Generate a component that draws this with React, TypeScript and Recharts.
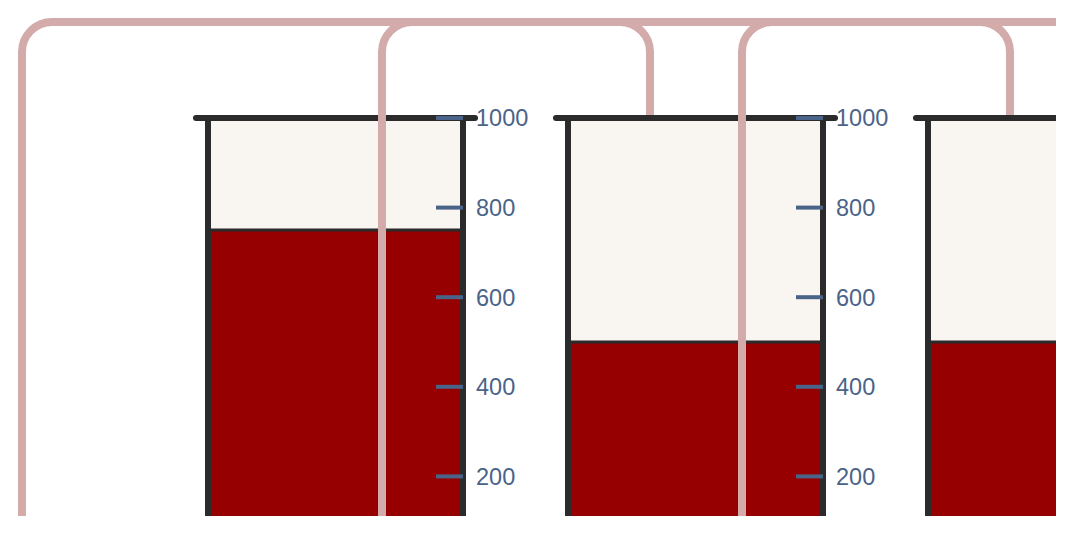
import { BarChart, Bar, XAxis, YAxis } from 'recharts';

const TANKS = ['Tank 1', 'Tank 2', 'Tank 3'];
const LEVELS = [750, 500, 500];
const CAPACITY = 1000;
const TICKS = [200, 400, 600, 800, 1000];

const WALL = '#2b2b2b';
const LIQUID = '#960000';
const EMPTY = '#f9f5f0';
const SCALE = '#4a6388';
const PIPE = '#d3abab';

const VIEW_W = 1048;
const VIEW_H = 508;
const CHART_W = 360;
const CHART_H = 600;
const FIRST_LEFT = 160;
const MARGIN = { top: 110, right: 0, bottom: 42, left: 40 };
const AXIS_W = 65;

// pipe layout, measured from each tank's left wall
const PIPE_Y = 14;
const PIPE_R = 30;
const OUTLET = 174;
const INLET = 82;
const FEED = -186;

function TankShape(props: any) {
    const { x, y, width, height, background } = props;
    const top = background ? background.y : MARGIN.top;
    const bottom = background ? background.y + background.height : y + height;
    return (
        <g>
            <rect x={x} y={top} width={width} height={bottom - top} fill={EMPTY} />
            <rect x={x} y={y} width={width} height={bottom - y} fill={LIQUID} />
            <line x1={x} x2={x + width} y1={y} y2={y} stroke={WALL} strokeWidth={3} />
            <line x1={x} x2={x} y1={top} y2={bottom + 40} stroke={WALL} strokeWidth={6} />
            <line x1={x + width} x2={x + width} y1={top} y2={bottom + 40} stroke={WALL} strokeWidth={6} />
            <line
                x1={x - 12}
                x2={x + width + 12}
                y1={top}
                y2={top}
                stroke={WALL}
                strokeWidth={6}
                strokeLinecap="round"
            />
        </g>
    );
}

function ScaleTick(props: any) {
    const { x, y, payload } = props;
    return (
        <g>
            <line x1={x - 40} x2={x - 13} y1={y} y2={y} stroke={SCALE} strokeWidth={4} />
            <text
                x={x}
                y={y}
                dy="0.36em"
                textAnchor="start"
                fill={SCALE}
                fontSize={23.5}
                fontFamily="'Liberation Sans', Arial, sans-serif"
            >
                {payload.value}
            </text>
        </g>
    );
}

function tankLeft(i: number) {
    return FIRST_LEFT + MARGIN.left + i * CHART_W;
}

function pipePaths() {
    const r = PIPE_R;
    const paths: string[] = [];
    const fx = tankLeft(0) + FEED;
    paths.push(`M${fx},${VIEW_H + 10} V${PIPE_Y + r} A${r},${r} 0 0 1 ${fx + r},${PIPE_Y} H${VIEW_W + 10}`);
    for (let i = 1; i < TANKS.length; i++) {
        const from = tankLeft(i - 1) + OUTLET;
        const to = tankLeft(i) + INLET;
        paths.push(
            `M${from},${VIEW_H + 10} V${PIPE_Y + r} A${r},${r} 0 0 1 ${from + r},${PIPE_Y} ` +
            `H${to - r} A${r},${r} 0 0 1 ${to},${PIPE_Y + r} V${MARGIN.top - 3}`
        );
    }
    return paths;
}

export default function App() {
    return (
        <div style={{ position: 'relative', width: VIEW_W, height: VIEW_H, overflow: 'hidden' }}>
            {TANKS.map((name, i) => (
                <div
                    key={name}
                    style={{ position: 'absolute', left: FIRST_LEFT + i * CHART_W, top: 0 }}
                >
                    <BarChart
                        width={CHART_W}
                        height={CHART_H}
                        data={[{ name, level: LEVELS[i] }]}
                        margin={MARGIN}
                        barCategoryGap={0}
                    >
                        <XAxis dataKey="name" hide />
                        <Bar dataKey="level" shape={<TankShape />} isAnimationActive={false} />
                        <YAxis
                            orientation="right"
                            domain={[0, CAPACITY]}
                            ticks={TICKS}
                            interval={0}
                            width={AXIS_W}
                            tickSize={0}
                            tickMargin={13}
                            axisLine={false}
                            tickLine={false}
                            tick={<ScaleTick />}
                        />
                    </BarChart>
                </div>
            ))}
            <svg
                width={VIEW_W}
                height={VIEW_H}
                style={{ position: 'absolute', left: 0, top: 0, pointerEvents: 'none' }}
            >
                {pipePaths().map((d, i) => (
                    <path key={i} d={d} fill="none" stroke={PIPE} strokeWidth={8} />
                ))}
            </svg>
        </div>
    );
}
